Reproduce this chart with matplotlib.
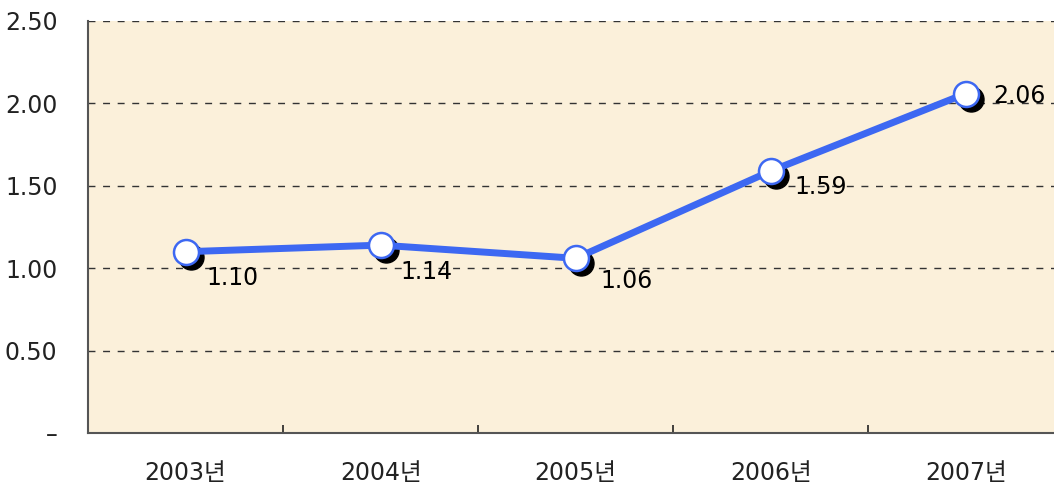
import matplotlib
matplotlib.use("Agg")
import matplotlib.pyplot as plt
import matplotlib.transforms as mtransforms

years = ["2003년", "2004년", "2005년", "2006년", "2007년"]
values = [1.10, 1.14, 1.06, 1.59, 2.06]
y_ticks = [0, 0.5, 1.0, 1.5, 2.0, 2.5]
y_tick_labels = ["–", "0.50", "1.00", "1.50", "2.00", "2.50"]

# label offsets in pixels (right, down)
label_offsets = [(47, 26), (46, 27), (51, 23), (50, 16), (53, 2)]

plt.rcParams["font.family"] = ["DejaVu Sans", "Noto Sans CJK KR"]

fig = plt.figure(figsize=(10.54, 4.87), dpi=100)
# the plot area runs a little past the right edge of the picture
ax = fig.add_axes([88 / 1054, 54 / 487, 975.5 / 1054, 412 / 487])
ax.set_facecolor("#fbf0da")

x = list(range(len(years)))
ax.set_xlim(-0.5, len(years) - 0.5)
ax.set_ylim(0, 2.5)

for y in y_ticks[1:]:
    ax.axhline(y, color="#333333", lw=1.0, ls=(0, (5, 5.5)), zorder=1)

shadow = mtransforms.offset_copy(ax.transData, fig=fig, x=5, y=-5, units="dots")
ax.plot(x, values, ls="none", marker="o", ms=18, color="black", transform=shadow, zorder=2)
ax.plot(x, values, color="#3d68f2", lw=5, zorder=3)
ax.plot(x, values, ls="none", marker="o", ms=18, mfc="white", mec="#3d68f2", mew=1.8, zorder=4)

for xi, v, (dx, dy) in zip(x, values, label_offsets):
    ax.annotate(f"{v:.2f}", (xi, v), xytext=(dx * 0.72, -dy * 0.72), textcoords="offset points",
                ha="center", va="center", fontsize=17, color="black", zorder=5)

ax.set_yticks(y_ticks)
ax.set_yticklabels(y_tick_labels, fontsize=17, color="#222222")
ax.tick_params(axis="y", length=0, pad=22)

ax.set_xticks(x)
ax.set_xticklabels(years, fontsize=17, color="#222222")
ax.tick_params(axis="x", which="major", length=0, pad=20)
ax.set_xticks([i + 0.5 for i in x[:-1]], minor=True)
ax.tick_params(axis="x", which="minor", direction="in", length=6, color="#222222", width=1.2)

for side in ["top", "right"]:
    ax.spines[side].set_visible(False)
for side in ["left", "bottom"]:
    ax.spines[side].set_color("#555555")
    ax.spines[side].set_linewidth(1.5)

fig.savefig("out.png", dpi=100)
